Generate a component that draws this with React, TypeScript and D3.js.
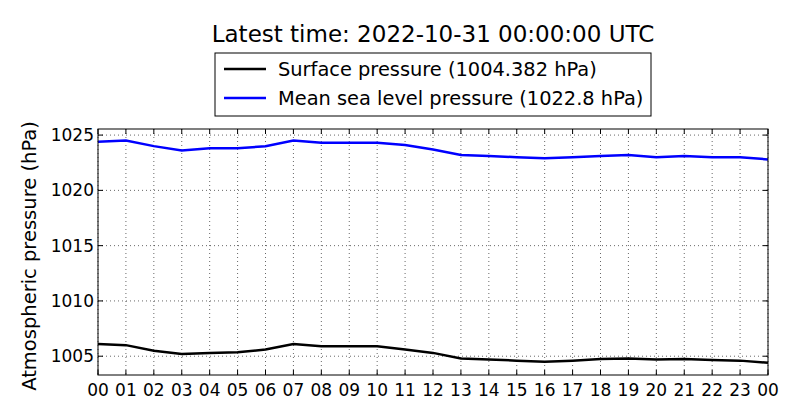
import React from 'react';
import * as d3 from 'd3';

const hours = [0,1,2,3,4,5,6,7,8,9,10,11,12,13,14,15,16,17,18,19,20,21,22,23,24];
const mslp = [1024.4,1024.5,1024.0,1023.6,1023.8,1023.8,1024.0,1024.5,1024.3,1024.3,1024.3,1024.1,1023.7,1023.2,1023.1,1023.0,1022.9,1023.0,1023.1,1023.2,1023.0,1023.1,1023.0,1023.0,1022.8];
const surface = [1006.1,1006.0,1005.5,1005.2,1005.3,1005.35,1005.6,1006.1,1005.9,1005.9,1005.9,1005.6,1005.3,1004.8,1004.7,1004.6,1004.5,1004.6,1004.75,1004.8,1004.7,1004.75,1004.65,1004.6,1004.4];
const yTicks = [1005, 1010, 1015, 1020, 1025];
const xTickLabels = ['00','01','02','03','04','05','06','07','08','09','10','11','12','13','14','15','16','17','18','19','20','21','22','23','00'];

export default function App() {
  const left = 98, right = 768, top = 129, bottom = 375;
  const x = d3.scaleLinear().domain([0, 24]).range([left, right]);
  const y = d3.scaleLinear().domain([1003.3, 1025.55]).range([bottom, top]);
  const line = (vals: number[]) =>
    d3.line<number>().x((_, i) => x(hours[i])).y(d => y(d))(vals) || '';
  const font = 'DejaVu Sans, sans-serif';
  return (
    <svg width={800} height={420} style={{ position: 'absolute', left: 0, top: 0, background: '#fff' }} fontFamily={font}>
      <rect x={0} y={0} width={800} height={420} fill="#fff" />
      <text x={433} y={42} textAnchor="middle" fontSize={23}>Latest time: 2022-10-31 00:00:00 UTC</text>
      {yTicks.map(t => (
        <g key={t}>
          <line x1={left} x2={right} y1={y(t)} y2={y(t)} stroke="#000" strokeWidth={0.6} strokeDasharray="1,3" />
          <line x1={left} x2={left + 5} y1={y(t)} y2={y(t)} stroke="#000" />
          <line x1={right} x2={right - 5} y1={y(t)} y2={y(t)} stroke="#000" />
          <text x={left - 4} y={y(t) + 6} textAnchor="end" fontSize={17}>{t}</text>
        </g>
      ))}
      {hours.map((h, i) => (
        <g key={i}>
          <line x1={x(h)} x2={x(h)} y1={top} y2={bottom} stroke="#000" strokeWidth={0.6} strokeDasharray="1,3" />
          <line x1={x(h)} x2={x(h)} y1={bottom} y2={bottom - 5} stroke="#000" />
          <line x1={x(h)} x2={x(h)} y1={top} y2={top + 5} stroke="#000" />
          <text x={x(h)} y={bottom + 21} textAnchor="middle" fontSize={17}>{xTickLabels[i]}</text>
        </g>
      ))}
      <path d={line(mslp)} fill="none" stroke="#0000ff" strokeWidth={2.5} />
      <path d={line(surface)} fill="none" stroke="#000" strokeWidth={2.5} />
      <rect x={left} y={top} width={right - left} height={bottom - top} fill="none" stroke="#000" />
      <text transform={`translate(36,${(top + bottom) / 2 + 4}) rotate(-90)`} textAnchor="middle" fontSize={19.5}>Atmospheric pressure (hPa)</text>
      <rect x={215} y={53} width={436} height={63} fill="#fff" stroke="#000" />
      <line x1={224} x2={266} y1={69} y2={69} stroke="#000" strokeWidth={2.5} />
      <text x={278} y={76} fontSize={19.4}>Surface pressure (1004.382 hPa)</text>
      <line x1={224} x2={266} y1={98} y2={98} stroke="#0000ff" strokeWidth={2.5} />
      <text x={278} y={105} fontSize={19.4}>Mean sea level pressure (1022.8 hPa)</text>
    </svg>
  );
}
